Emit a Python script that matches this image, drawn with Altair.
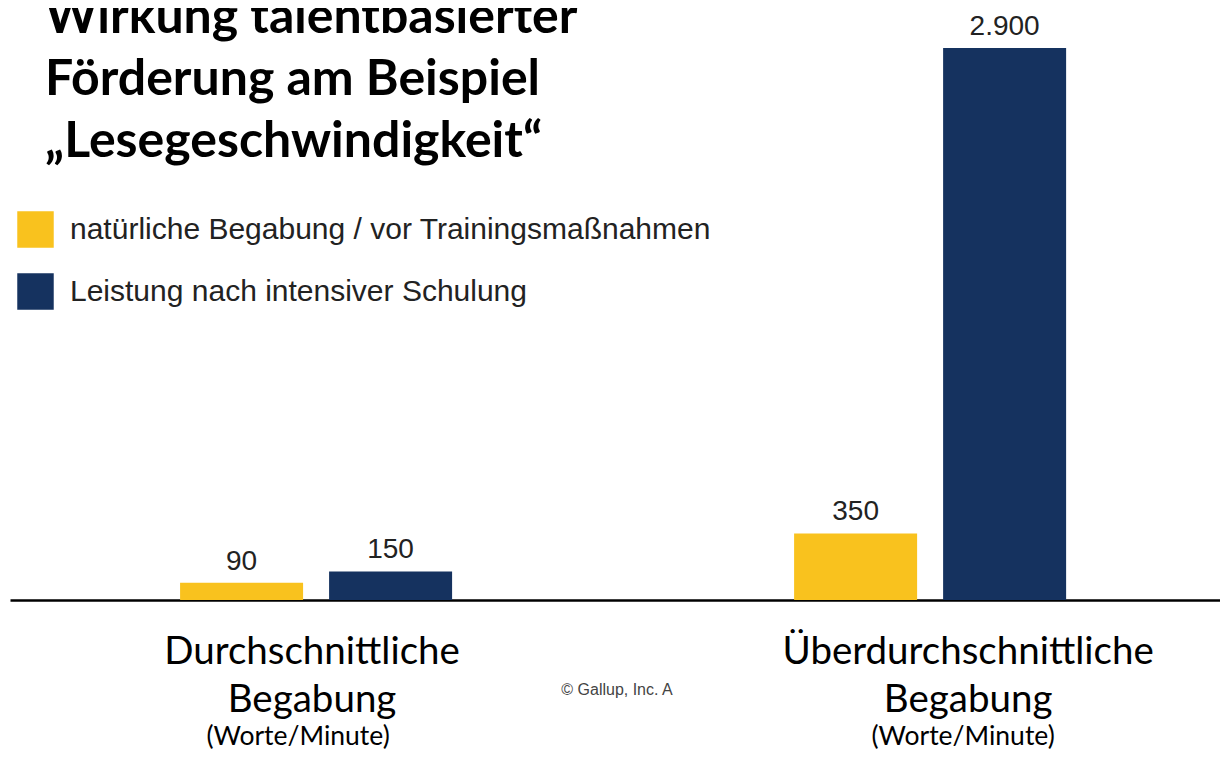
import altair as alt
import pandas as pd

# ---- data ----
categories = ["Durchschnittliche\nBegabung", "Überdurchschnittliche\nBegabung"]
series = ["natürliche Begabung / vor Trainingsmaßnahmen", "Leistung nach intensiver Schulung"]
natural = [90, 350]
trained = [150, 2900]
colors = ["#F9C21E", "#15325F"]
unit_label = "(Worte/Minute)"
title_lines = ["Wirkung talentbasierter", "Förderung am Beispiel", "„Lesegeschwindigkeit“"]
credit = "© Gallup, Inc. A"

rows = []
for i, c in enumerate(categories):
    rows.append({"Kategorie": c, "Reihe": series[0], "Wert": natural[i]})
    rows.append({"Kategorie": c, "Reihe": series[1], "Wert": trained[i]})
df = pd.DataFrame(rows)
df["Label"] = df["Wert"].map(lambda v: f"{v:,}".replace(",", "."))

units_df = pd.DataFrame({"Kategorie": categories, "Einheit": [unit_label] * len(categories)})
title_df = pd.DataFrame({"t": ["\n".join(title_lines)]})
credit_df = pd.DataFrame({"t": [credit]})

W, H = 1210, 592

x_scale = alt.Scale(domain=categories, paddingInner=0.557, paddingOuter=0.2638, align=0.525)

x_enc = alt.X(
    "Kategorie:N",
    sort=categories,
    scale=x_scale,
    axis=alt.Axis(
        title=None,
        labelExpr="split(datum.label, '\\n')",
        labelFont="Lato",
        labelFontSize=38.5,
        labelLineHeight=48,
        labelColor="black",
        labelPadding=33,
        labelBaseline="top",
        labelAngle=0,
        labelLimit=0,
        labelOffset={"condition": {"test": "indexof(datum.value, 'Über') == 0", "value": 38}, "value": -4},
        ticks=False,
        domainColor="black",
        domainWidth=2.5,
    ),
)
y_enc = alt.Y("Wert:Q", scale=alt.Scale(domain=[0, 3110], nice=False), axis=None)
xoff = alt.XOffset("Reihe:N", sort=series, scale=alt.Scale(paddingInner=0.1745, paddingOuter=0))

base = alt.Chart(df)

bars = base.mark_bar().encode(
    x=x_enc,
    xOffset=xoff,
    y=y_enc,
    color=alt.Color(
        "Reihe:N",
        sort=series,
        scale=alt.Scale(domain=series, range=colors),
        legend=alt.Legend(
            orient="none",
            legendX=7,
            legendY=203,
            title=None,
            symbolType="square",
            symbolSize=1330,
            symbolStrokeWidth=0,
            symbolOpacity=1,
            labelFont="Liberation Sans",
            labelFontSize=30,
            labelColor="#222222",
            labelOffset=16,
            labelLimit=0,
            rowPadding=25,
            padding=0,
        ),
    ),
)

values = base.mark_text(
    dy=-13, baseline="alphabetic", font="Liberation Sans", fontSize=28, color="#222222"
).encode(x=x_enc, xOffset=xoff, y=y_enc, text="Label:N")

def unit_layer(cat, dx):
    return (
        alt.Chart(units_df)
        .transform_filter(alt.datum.Kategorie == cat)
        .mark_text(font="Lato", fontSize=26.5, color="black", baseline="middle", dx=dx)
        .encode(x=alt.X("Kategorie:N", sort=categories, scale=x_scale), y=alt.value(729), text="Einheit:N")
    )

units1 = unit_layer(categories[0], -18)
units2 = unit_layer(categories[1], 33)

title = alt.Chart(title_df).mark_text(
    font="Lato", fontWeight="bold", fontSize=50, lineHeight=62, lineBreak="\n",
    align="left", baseline="alphabetic", color="black"
).encode(x=alt.value(35), y=alt.value(25), text="t:N")

credit_t = alt.Chart(credit_df).mark_text(
    font="Liberation Sans", fontSize=16, color="#444444", baseline="middle"
).encode(x=alt.value(607), y=alt.value(682), text="t:N")

chart = (
    alt.layer(bars, values, units1, units2, title, credit_t)
    .properties(
        width=W,
        height=H,
        autosize=alt.AutoSizeParams(type="none"),
        padding={"left": 2, "top": 0, "right": 0, "bottom": 151},
        background="white",
    )
    .configure_view(stroke=None)
)

chart.save("out.html", embed_options={"renderer": "svg", "actions": False})
